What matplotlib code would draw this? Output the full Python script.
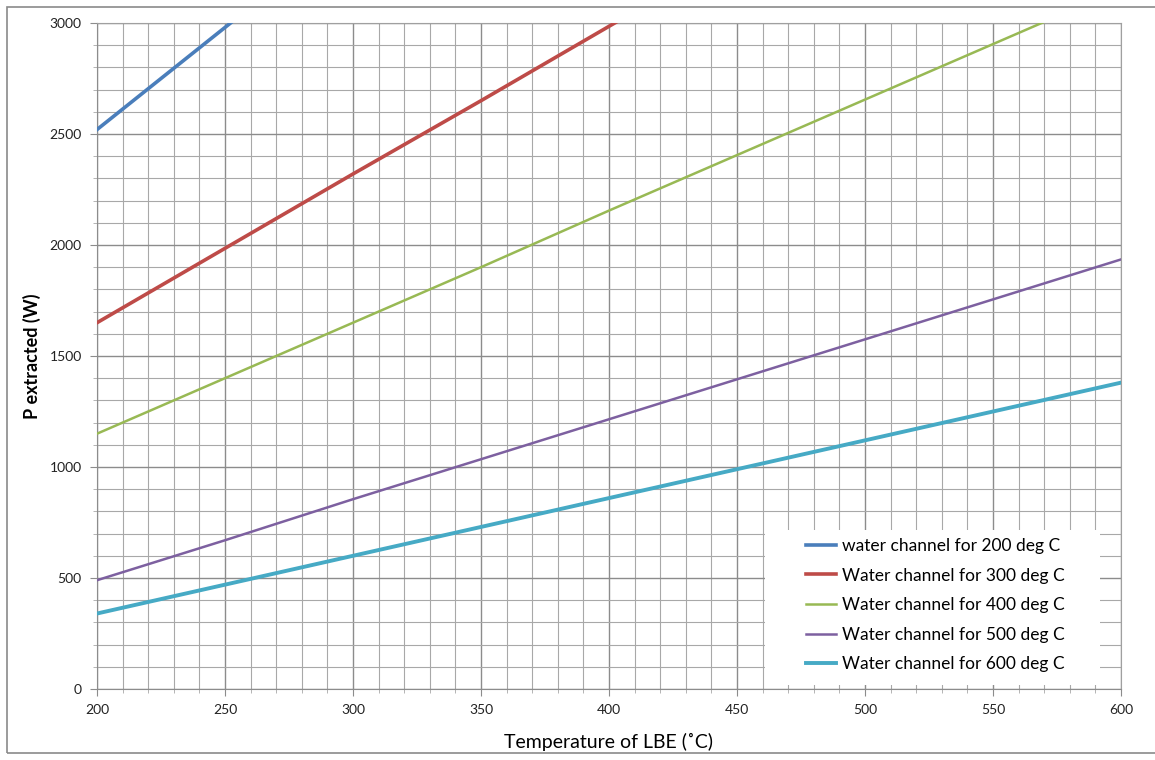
import numpy as np
import matplotlib
matplotlib.use("Agg")
import matplotlib.pyplot as plt
from matplotlib.patches import Rectangle
from matplotlib.ticker import MultipleLocator

plt.rcParams["font.family"] = ["Lato", "DejaVu Sans"]

# LBE temperature (deg C)
t_lbe = [200, 250, 300, 350, 400, 450, 500, 550, 600]

# extracted power (W) per water channel temperature
p_200 = [2520, 2980, 3440, 3900, 4360, 4820, 5280, 5740, 6200]
p_300 = [1650, 1985, 2320, 2650, 2985, 3320, 3650, 3985, 4320]
p_400 = [1150, 1400, 1650, 1900, 2155, 2405, 2655, 2905, 3155]
p_500 = [490, 670, 855, 1035, 1215, 1395, 1575, 1755, 1935]
p_600 = [340, 470, 600, 730, 860, 990, 1120, 1250, 1380]

labels = [
    "water channel for 200 deg C",
    "Water channel for 300 deg C",
    "Water channel for 400 deg C",
    "Water channel for 500 deg C",
    "Water channel for 600 deg C",
]
colors = ["#4A7EBB", "#BE4B48", "#98B954", "#7D60A0", "#46AAC5"]
widths = [2.6, 2.6, 1.8, 1.8, 2.8]

fig = plt.figure(figsize=(11.55, 7.6), dpi=100)
ax = fig.add_axes([97 / 1155, 1 - 689 / 760, (1121 - 97) / 1155, (689 - 23) / 760])

for ys, lab, c, lw in zip([p_200, p_300, p_400, p_500, p_600], labels, colors, widths):
    ax.plot(t_lbe, ys, color=c, lw=lw, label=lab, zorder=3)

ax.set_xlim(200, 600)
ax.set_ylim(0, 3000)
ax.xaxis.set_major_locator(MultipleLocator(50))
ax.xaxis.set_minor_locator(MultipleLocator(10))
ax.yaxis.set_major_locator(MultipleLocator(500))
ax.yaxis.set_minor_locator(MultipleLocator(100))

ax.grid(which="major", color="#8c8c8c", lw=1.0, zorder=0)
ax.grid(which="minor", color="#a8a8a8", lw=0.8, zorder=0)
ax.set_axisbelow(True)

for side in ["top", "right"]:
    ax.spines[side].set_color("#a0a0a0")
for side in ["left", "bottom"]:
    ax.spines[side].set_color("#8c8c8c")

ax.tick_params(which="major", length=5, color="#8c8c8c", labelsize=10, labelcolor="#222222", pad=6)
ax.tick_params(which="minor", length=3, color="#a8a8a8")

ax.set_ylabel("P extracted (W)", fontsize=13, fontweight="bold", labelpad=6)
ax.set_xlabel("Temperature of LBE (\u02daC)", fontsize=14, labelpad=12)

# white legend area, larger than the entries (as in the original sheet)
ax.add_patch(Rectangle((765 / 1155, 1 - 685 / 760), 335 / 1155, 155 / 760,
                       transform=fig.transFigure, facecolor="white",
                       edgecolor="none", zorder=4))

leg = ax.legend(loc="upper left", bbox_to_anchor=(806 / 1155, 1 - 538 / 760),
                bbox_transform=fig.transFigure, fontsize=12.5, frameon=False,
                handlelength=1.75, handletextpad=0.3, labelspacing=0.78,
                borderpad=0, borderaxespad=0)
leg.set_zorder(5)

# outer chart border
fig.patches.append(Rectangle((7 / 1155, 1 - 753 / 760), 1150 / 1155, 746 / 760,
                             transform=fig.transFigure, fill=False,
                             edgecolor="#8a8a8a", lw=1.2))

fig.savefig("out.png", dpi=100)
